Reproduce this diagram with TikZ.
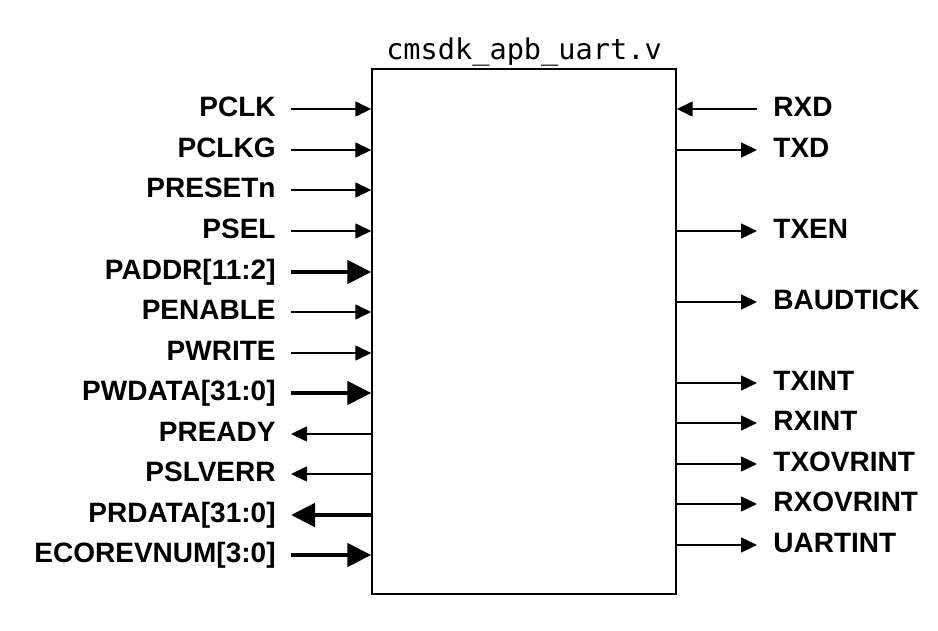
\documentclass[tikz,border=0pt]{standalone}
\usepackage{fontspec}
\setmainfont{Liberation Sans}
\setmonofont{DejaVu Sans Mono}
\usepackage{tikz}
\usetikzlibrary{arrows.meta}
\tikzset{
  lin/.style={font=\bfseries\fontsize{14}{14}\selectfont, anchor=east,
    inner xsep=7.5pt, inner ysep=0pt, text height=0.716em, text depth=0pt},
  rin/.style={lin, anchor=west, inner xsep=8pt},
  sig/.style={-{Triangle[length=8pt, width=7.5pt]}, line width=0.75pt},
  bus/.style={-{Triangle[length=12pt, width=11.5pt]}, line width=2.4pt}
}

\begin{document}
\begin{tikzpicture}[x=0.5pt, y=-0.5pt]
    \useasboundingbox (0,0) rectangle (938,631);

    \draw(524,331.5) node[draw, line width=0.7pt, minimum width=152pt, minimum height=262.5pt] (uart) {};
    \draw(524,60) node[anchor=base, font=\ttfamily\fontsize{14.3}{14.3}\selectfont] (title) {cmsdk\_apb\_uart.v};

    % APB side
    \draw(291,109) node[lin] (pclk) {PCLK};
    \draw(291,150) node[lin] (pclkg) {PCLKG};
    \draw(291,190) node[lin] (presetn) {PRESETn};
    \draw(291,231) node[lin] (psel) {PSEL};
    \draw(291,272) node[lin] (paddr) {PADDR[11:2]};
    \draw(291,312) node[lin] (penable) {PENABLE};
    \draw(291,353) node[lin] (pwrite) {PWRITE};
    \draw(291,393) node[lin] (pwdata) {PWDATA[31:0]};
    \draw(291,434) node[lin] (pready) {PREADY};
    \draw(291,474) node[lin] (pslverr) {PSLVERR};
    \draw(291,515) node[lin] (prdata) {PRDATA[31:0]};
    \draw(291,555) node[lin] (ecorevnum) {ECOREVNUM[3:0]};

    \draw[sig] (pclk.east) -- (pclk.east -| uart.west);
    \draw[sig] (pclkg.east) -- (pclkg.east -| uart.west);
    \draw[sig] (presetn.east) -- (presetn.east -| uart.west);
    \draw[sig] (psel.east) -- (psel.east -| uart.west);
    \draw[bus] (paddr.east) -- (paddr.east -| uart.west);
    \draw[sig] (penable.east) -- (penable.east -| uart.west);
    \draw[sig] (pwrite.east) -- (pwrite.east -| uart.west);
    \draw[bus] (pwdata.east) -- (pwdata.east -| uart.west);
    \draw[sig] (pready.east -| uart.west) -- (pready.east);
    \draw[sig] (pslverr.east -| uart.west) -- (pslverr.east);
    \draw[bus] (prdata.east -| uart.west) -- (prdata.east);
    \draw[bus] (ecorevnum.east) -- (ecorevnum.east -| uart.west);

    % UART side
    \draw(757,109) node[rin] (rxd) {RXD};
    \draw(757,150) node[rin] (txd) {TXD};
    \draw(757,231) node[rin] (txen) {TXEN};
    \draw(757,302) node[rin] (baudtick) {BAUDTICK};
    \draw(757,383) node[rin] (txint) {TXINT};
    \draw(757,423) node[rin] (rxint) {RXINT};
    \draw(757,464) node[rin] (txovrint) {TXOVRINT};
    \draw(757,504) node[rin] (rxovrint) {RXOVRINT};
    \draw(757,545) node[rin] (uartint) {UARTINT};

    \draw[sig] (rxd.west) -- (rxd.west -| uart.east);
    \draw[sig] (txd.west -| uart.east) -- (txd.west);
    \draw[sig] (txen.west -| uart.east) -- (txen.west);
    \draw[sig] (baudtick.west -| uart.east) -- (baudtick.west);
    \draw[sig] (txint.west -| uart.east) -- (txint.west);
    \draw[sig] (rxint.west -| uart.east) -- (rxint.west);
    \draw[sig] (txovrint.west -| uart.east) -- (txovrint.west);
    \draw[sig] (rxovrint.west -| uart.east) -- (rxovrint.west);
    \draw[sig] (uartint.west -| uart.east) -- (uartint.west);

\end{tikzpicture}
\end{document}
